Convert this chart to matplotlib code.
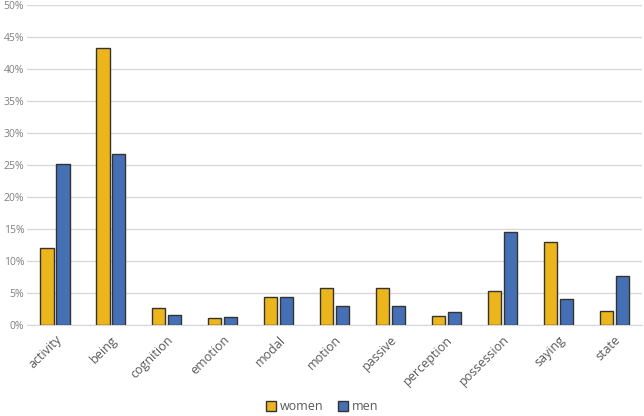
import matplotlib.pyplot as plt
import numpy as np
from matplotlib.ticker import PercentFormatter

categories = ["activity", "being", "cognition", "emotion", "modal", "motion",
              "passive", "perception", "possession", "saying", "state"]
women = [12.0, 43.3, 2.7, 1.1, 4.3, 5.8, 5.8, 1.4, 5.3, 13.0, 2.1]
men = [25.1, 26.7, 1.5, 1.3, 4.3, 3.0, 3.0, 2.0, 14.5, 4.0, 7.6]

plt.rcParams["font.family"] = ["Open Sans", "DejaVu Sans"]

fig = plt.figure(figsize=(6.44, 4.16), dpi=100)
ax = fig.add_axes([0.042, 0.219, 0.955, 0.769])

x = np.arange(len(categories))
w = 0.235
ax.bar(x - w / 2 - 0.025, women, w, color="#EBB51B", edgecolor="#333333",
       linewidth=1, label="women", zorder=3)
ax.bar(x + w / 2 + 0.025, men, w, color="#4670B5", edgecolor="#333333",
       linewidth=1, label="men", zorder=3)

ax.set_ylim(0, 50)
ax.set_yticks(np.arange(0, 51, 5))
ax.yaxis.set_major_formatter(PercentFormatter(decimals=0))
ax.set_xlim(-0.5, len(categories) - 0.5)
ax.set_xticks(x)
ax.set_xticklabels(categories, rotation=45, ha="right", rotation_mode="anchor")
ax.tick_params(axis="both", length=0, labelsize=9, colors="#595959")
ax.tick_params(axis="y", labelsize=7.5, pad=2, colors="#7F7F7F")
ax.tick_params(axis="x", pad=6)

ax.grid(axis="y", color="#D9D9D9", linewidth=1, zorder=0)
for s in ["top", "right", "left"]:
    ax.spines[s].set_visible(False)
ax.spines["bottom"].set_color("#D9D9D9")

fig.legend(loc="lower center", bbox_to_anchor=(0.5, -0.02), ncol=2, frameon=False,
           fontsize=9, handlelength=0.8, handleheight=0.8, handletextpad=0.3,
           columnspacing=1.2, labelcolor="#595959")

fig.savefig("out.png", dpi=100)
